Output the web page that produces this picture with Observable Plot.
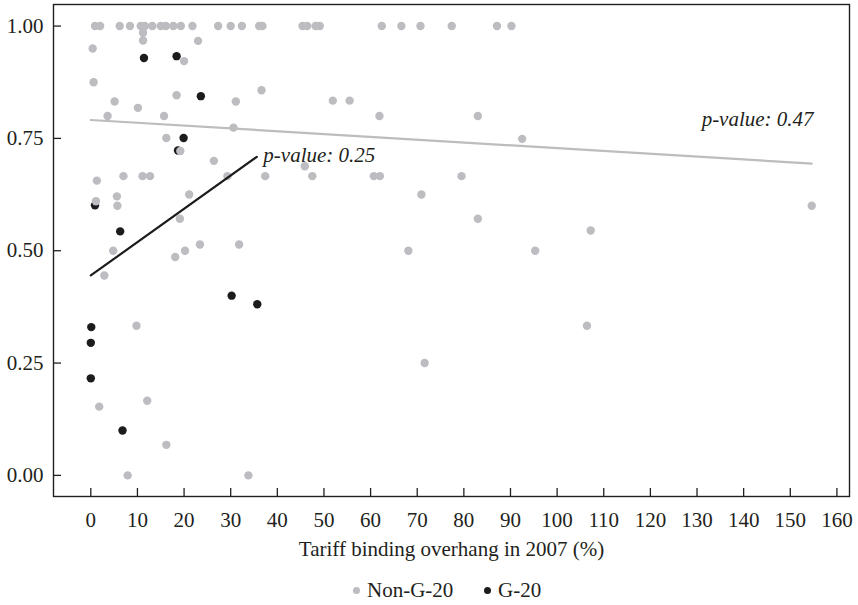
<!DOCTYPE html>
<html>
<head>
<meta charset="utf-8">
<script src="https://cdn.jsdelivr.net/npm/d3@7"></script>
<script src="https://cdn.jsdelivr.net/npm/@observablehq/plot@0.6"></script>
<style>
  body { margin: 0; background: #fff; font-family: "Liberation Serif", "DejaVu Serif", serif; color: #231f20; }
  #wrap { position: relative; width: 858px; height: 605px; }
  #legend { position: absolute; left: 0; top: 578px; width: 858px; height: 24px; font-size: 21px; }
  .item { position: absolute; top: 0; display: flex; align-items: center; height: 24px; white-space: nowrap; }
  .sw { display: inline-block; width: 7px; height: 7px; border-radius: 50%; margin-right: 7px; }
</style>
</head>
<body>
<div id="wrap">
  <div id="chart"></div>
  <div id="legend"></div>
</div>
<script>
// ---- data ----
const seriesNames = ["Non-G-20", "G-20"];
const seriesColors = ["#bdbdc1", "#1c1c1c"];

const nonG20X = [
  0.9, 2.0, 6.2, 8.4, 10.7, 11.6, 13.2, 15.0, 16.1, 17.7, 19.3, 21.8, 27.3, 30.0, 32.4, 36.1, 36.8,
  45.4, 46.4, 48.2, 49.1, 62.4, 66.6, 70.7, 77.4, 87.1, 90.2,
  11.2, 11.2, 23.0, 0.4, 20.0, 0.6, 36.6, 18.4, 5.1, 31.1, 10.1, 3.6, 15.7, 30.6,
  51.9, 55.5, 61.9, 83.0, 92.5, 16.2, 19.2, 26.4, 45.9,
  1.3, 7.0, 11.1, 12.7, 29.3, 37.4, 47.5, 60.7, 62.0, 79.5,
  70.9, 21.1, 5.6, 1.1, 5.7, 19.1, 83.0, 107.2, 154.6,
  68.1, 95.3, 4.8, 18.1, 20.2, 23.4, 31.8, 2.9,
  9.8, 106.4, 71.6, 1.8, 12.1, 16.2, 7.9, 33.8
];
const nonG20Y = [
  1, 1, 1, 1, 1, 1, 1, 1, 1, 1, 1, 1, 1, 1, 1, 1, 1,
  1, 1, 1, 1, 1, 1, 1, 1, 1, 1,
  0.985, 0.968, 0.967, 0.950, 0.922, 0.875, 0.857, 0.846, 0.832, 0.832, 0.818, 0.800, 0.800, 0.774,
  0.834, 0.834, 0.800, 0.800, 0.749, 0.751, 0.722, 0.700, 0.688,
  0.656, 0.666, 0.666, 0.666, 0.666, 0.666, 0.666, 0.666, 0.666, 0.666,
  0.625, 0.625, 0.621, 0.610, 0.600, 0.571, 0.571, 0.545, 0.600,
  0.500, 0.500, 0.500, 0.486, 0.500, 0.514, 0.514, 0.445,
  0.333, 0.333, 0.250, 0.153, 0.166, 0.068, 0.000, 0.000
];

const g20X = [11.4, 18.4, 23.6, 19.9, 18.7, 0.9, 6.3, 30.2, 35.7, 0.1, 0.0, 0.0, 6.8];
const g20Y = [0.929, 0.933, 0.844, 0.751, 0.723, 0.601, 0.543, 0.400, 0.381, 0.330, 0.295, 0.216, 0.100];

// fitted lines (endpoints)
const nonG20FitX = [0, 154.6];
const nonG20FitY = [0.791, 0.694];
const g20FitX = [0, 35.6];
const g20FitY = [0.445, 0.709];

// p-value annotations
const pLabelNonG20 = {t: "p-value: 0.47", x: 155.0, y: 0.792};
const pLabelG20 = {t: "p-value: 0.25", x: 37.0, y: 0.712};

const xTicks = [0, 10, 20, 30, 40, 50, 60, 70, 80, 90, 100, 110, 120, 130, 140, 150, 160];
const yTicks = [0, 0.25, 0.5, 0.75, 1];
const xTitle = "Tariff binding overhang in 2007 (%)";

// ---- build tables ----
const nonG20 = nonG20X.map((x, i) => ({x, y: nonG20Y[i], group: seriesNames[0]}));
const g20 = g20X.map((x, i) => ({x, y: g20Y[i], group: seriesNames[1]}));
const nonFit = nonG20FitX.map((x, i) => ({x, y: nonG20FitY[i]}));
const gFit = g20FitX.map((x, i) => ({x, y: g20FitY[i]}));

const ink = "#231f20";
const fs = 21;

const chart = Plot.plot({
  width: 858,
  height: 573,
  marginLeft: 53,
  marginRight: 9,
  marginTop: 4,
  marginBottom: 77,
  style: {fontFamily: '"Liberation Serif", "DejaVu Serif", serif', fontSize: fs + "px", color: ink, background: "#fff"},
  x: {domain: [-8, 162.7], label: null},
  y: {domain: [-0.047, 1.048], label: null},
  color: {domain: seriesNames, range: seriesColors},
  marks: [
    Plot.axisX({ticks: xTicks, tickSize: -8, tickFormat: () => "", stroke: ink, strokeWidth: 1.3, label: null}),
    Plot.axisX({ticks: xTicks, tickSize: 0, tickPadding: 16, fill: ink, fontSize: fs, label: null}),
    Plot.axisY({ticks: yTicks, tickSize: -8, tickFormat: () => "", stroke: ink, strokeWidth: 1.3, label: null}),
    Plot.axisY({ticks: yTicks, tickSize: 0, tickPadding: 10, tickFormat: d3.format(".2f"), fill: ink, fontSize: fs, label: null}),
    Plot.frame({stroke: ink, strokeWidth: 1.4}),
    Plot.dot(g20, {x: "x", y: "y", r: 4.2, fill: "group", stroke: null}),
    Plot.dot(nonG20, {x: "x", y: "y", r: 4.2, fill: "group", stroke: null}),
    Plot.line(nonFit, {x: "x", y: "y", stroke: "#bdbdbd", strokeWidth: 2.2}),
    Plot.line(gFit, {x: "x", y: "y", stroke: "#1c1c1c", strokeWidth: 2.2}),
    Plot.text([pLabelNonG20], {x: "x", y: "y", text: "t", textAnchor: "end", fontStyle: "italic", fontSize: fs, fill: ink}),
    Plot.text([pLabelG20], {x: "x", y: "y", text: "t", textAnchor: "start", fontStyle: "italic", fontSize: fs, fill: ink}),
    Plot.text([xTitle], {frameAnchor: "bottom", dy: 59, fontSize: fs, fill: ink})
  ]
});
document.getElementById("chart").appendChild(chart);

// legend
const legend = document.getElementById("legend");
const legendLeft = [353, 484];
seriesNames.forEach((name, i) => {
  const item = document.createElement("div");
  item.className = "item";
  item.style.left = legendLeft[i] + "px";
  const sw = document.createElement("span");
  sw.className = "sw";
  sw.style.background = seriesColors[i];
  const label = document.createElement("span");
  label.textContent = name;
  item.appendChild(sw);
  item.appendChild(label);
  legend.appendChild(item);
});
</script>
</body>
</html>
